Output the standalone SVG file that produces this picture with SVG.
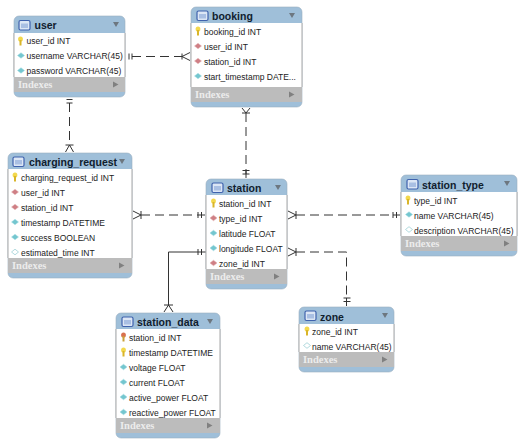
<svg xmlns="http://www.w3.org/2000/svg" width="524" height="445" viewBox="0 0 524 445">
<style>
.body{fill:#9fbfd9;stroke:#9aaebf;stroke-width:.6}
.white{fill:#fff}
.side{fill:none;stroke:#a9a9a9;stroke-width:1}
.band{fill:#bcbcbc}
.t{font-family:"Liberation Sans",Arial,sans-serif;font-size:10.5px;font-weight:bold;fill:#10202e}
.f{font-family:"Liberation Sans",Arial,sans-serif;font-size:8.5px;fill:#222}
.i{font-family:"Liberation Serif",serif;font-size:10.5px;font-weight:bold;fill:#ececec}
.tri{fill:#6d7780}
.tri2{fill:#808080}
.c{fill:none;stroke:#333;stroke-width:1}
.d{stroke-dasharray:9 5}
</style>
<defs>
<g id="ico"><rect x="0" y="0" width="11" height="9.5" rx="1.5" fill="#dce6f5" stroke="#3f62ad" stroke-width="1.2"/><rect x="2" y="3" width="7" height="4.5" fill="#a9bfe3"/></g>
<g id="key"><ellipse cx="0" cy="-2" rx="2.4" ry="2.6" fill="#f3d84c"/><rect x="-1" y="-1" width="2" height="5.500" fill="#d9b52a"/></g>
<g id="fkey"><ellipse cx="0" cy="-2" rx="2.4" ry="2.6" fill="#d9714f"/><rect x="-1" y="-1" width="2" height="5.500" fill="#c9a03a"/></g>
<path id="cy" d="M-3.500 0L0-2.800L3.500 0L0 2.800Z" fill="#74c6cf" stroke="#9fdbe0" stroke-width=".5"/>
<path id="rd" d="M-3.500 0L0-2.800L3.500 0L0 2.800Z" fill="#cf7f85" stroke="#e0b0b0" stroke-width=".5"/>
<path id="wh" d="M-3.500 0L0-2.800L3.500 0L0 2.800Z" fill="#fff" stroke="#9fd0d5" stroke-width=".8"/>
</defs>

<g id="connectors">
<path class="c d" d="M132 56.500H182"/>
<path class="c" d="M129 53.500v6M132 53.500v6M182 53.500v6M190 52.500L182 56.500L190 60.500"/>
<path class="c d" d="M69.500 103V145"/>
<path class="c" d="M66.500 99.500h6M66.500 103h6M65.500 145h8M65.500 152L69.500 145L73.500 152"/>
<path class="c d" d="M246 113V174"/>
<path class="c" d="M242 113h8M242 108L246 113L250 108M242.500 170.500h7M242.500 174h7M246 170V178"/>
<path class="c d" d="M141 215H198"/>
<path class="c" d="M133 211L141 215L133 219M141 211v8M198 212v6M201.500 212v6M198 215H205"/>
<path class="c d" d="M296 215H393"/>
<path class="c" d="M288 211L296 215L288 219M296 211v8M393 212v6M396.500 212v6M393 215H400"/>
<path class="c d" d="M296 252H346.500V298"/>
<path class="c" d="M288 248L296 252L288 256M296 248v8M343.500 298h7M343.500 301.500h7M346.500 298V306"/>
<path class="c" d="M206 252H168.500V305"/>
<path class="c" d="M198 249v6M201.500 249v6M164 305h9M164 312L168.500 305L173 312"/>
</g>

<g id="user">
<rect class="body" x="14" y="16" width="111" height="81" rx="5"/>
<rect class="white" x="14" y="33" width="111" height="44"/>
<path class="side" d="M14 33V77M125 33V77"/>
<rect class="band" x="14" y="77" width="111" height="15"/>
<use href="#ico" x="19" y="20.500"/>
<text class="t" x="34.500" y="29">user</text>
<path class="tri" d="M113 22h6l-3 5Z"/>
<use href="#key" x="20.500" y="41"/><text class="f" x="26.500" y="44">user_id INT</text>
<use href="#cy" x="21" y="55.500"/><text class="f" x="26.500" y="59">username VARCHAR(45)</text>
<use href="#cy" x="21" y="70.500"/><text class="f" x="26.500" y="74">password VARCHAR(45)</text>
<text class="i" x="18" y="88">Indexes</text>
<path class="tri2" d="M113 81.500l5.500 3-5.500 3Z"/>
</g>

<g id="booking">
<rect class="body" x="191" y="7" width="111" height="100" rx="5"/>
<rect class="white" x="191" y="23" width="111" height="64"/>
<path class="side" d="M191 23V87M302 23V87"/>
<rect class="band" x="191" y="87" width="111" height="15"/>
<use href="#ico" x="197" y="11"/>
<text class="t" x="212" y="20">booking</text>
<path class="tri" d="M289 13h6l-3 5Z"/>
<use href="#key" x="198" y="31"/><text class="f" x="204" y="34.500">booking_id INT</text>
<use href="#rd" x="198" y="46"/><text class="f" x="204" y="49.500">user_id INT</text>
<use href="#rd" x="198" y="61"/><text class="f" x="204" y="64.500">station_id INT</text>
<use href="#cy" x="198" y="76"/><text class="f" x="204" y="79.500">start_timestamp DATE...</text>
<text class="i" x="195" y="97.500">Indexes</text>
<path class="tri2" d="M289 91.500l5.500 3-5.500 3Z"/>
</g>

<g id="charging_request">
<rect class="body" x="8" y="153" width="124" height="125" rx="5"/>
<rect class="white" x="8" y="169" width="124" height="89"/>
<path class="side" d="M8 169V258M132 169V258"/>
<rect class="band" x="8" y="258" width="124" height="15"/>
<use href="#ico" x="13" y="157"/>
<text class="t" x="29" y="166">charging_request</text>
<path class="tri" d="M119 159h6l-3 5Z"/>
<use href="#key" x="15" y="177"/><text class="f" x="21" y="180.500">charging_request_id INT</text>
<use href="#rd" x="15" y="192"/><text class="f" x="21" y="195.500">user_id INT</text>
<use href="#rd" x="15" y="207"/><text class="f" x="21" y="210.500">station_id INT</text>
<use href="#cy" x="15" y="222"/><text class="f" x="21" y="225.500">timestamp DATETIME</text>
<use href="#cy" x="15" y="237"/><text class="f" x="21" y="240.500">success BOOLEAN</text>
<use href="#wh" x="15" y="252"/><text class="f" x="21" y="255.500">estimated_time INT</text>
<text class="i" x="12" y="269">Indexes</text>
<path class="tri2" d="M119 262.500l5.500 3-5.500 3Z"/>
</g>

<g id="station">
<rect class="body" x="206" y="179" width="81" height="110" rx="5"/>
<rect class="white" x="206" y="195" width="81" height="74"/>
<path class="side" d="M206 195V269M287 195V269"/>
<rect class="band" x="206" y="269" width="81" height="15"/>
<use href="#ico" x="212" y="183"/>
<text class="t" x="227" y="191.500">station</text>
<path class="tri" d="M275 185h6l-3 5Z"/>
<use href="#key" x="213.500" y="203"/><text class="f" x="219" y="206.500">station_id INT</text>
<use href="#rd" x="213.500" y="218"/><text class="f" x="219" y="221.500">type_id INT</text>
<use href="#cy" x="213.500" y="233"/><text class="f" x="219" y="236.500">latitude FLOAT</text>
<use href="#cy" x="213.500" y="248"/><text class="f" x="219" y="251.500">longitude FLOAT</text>
<use href="#rd" x="213.500" y="263"/><text class="f" x="219" y="266.500">zone_id INT</text>
<text class="i" x="210" y="280">Indexes</text>
<path class="tri2" d="M274 273.500l5.500 3-5.500 3Z"/>
</g>

<g id="station_type">
<rect class="body" x="401" y="175" width="116" height="81" rx="5"/>
<rect class="white" x="401" y="192" width="116" height="44"/>
<path class="side" d="M401 192V236M517 192V236"/>
<rect class="band" x="401" y="236" width="116" height="15"/>
<use href="#ico" x="407" y="179.500"/>
<text class="t" x="422" y="188.500">station_type</text>
<path class="tri" d="M504 181h6l-3 5Z"/>
<use href="#key" x="408" y="200"/><text class="f" x="414" y="203.500">type_id INT</text>
<use href="#cy" x="409" y="214.500"/><text class="f" x="414" y="218.500">name VARCHAR(45)</text>
<use href="#wh" x="409" y="229.500"/><text class="f" x="414" y="233.500">description VARCHAR(45)</text>
<text class="i" x="405" y="247">Indexes</text>
<path class="tri2" d="M504 240.500l5.500 3-5.500 3Z"/>
</g>

<g id="zone">
<rect class="body" x="299" y="307" width="95" height="65" rx="5"/>
<rect class="white" x="299" y="324" width="95" height="28"/>
<path class="side" d="M299 324V352M394 324V352"/>
<rect class="band" x="299" y="352" width="95" height="15"/>
<use href="#ico" x="305" y="311"/>
<text class="t" x="320" y="320.500">zone</text>
<path class="tri" d="M382 313h6l-3 5Z"/>
<use href="#key" x="307" y="331"/><text class="f" x="312" y="334.500">zone_id INT</text>
<use href="#wh" x="307" y="345.500"/><text class="f" x="312" y="349.500">name VARCHAR(45)</text>
<text class="i" x="303" y="363">Indexes</text>
<path class="tri2" d="M382 356.500l5.500 3-5.500 3Z"/>
</g>

<g id="station_data">
<rect class="body" x="116" y="313" width="104" height="125" rx="5"/>
<rect class="white" x="116" y="329" width="104" height="89"/>
<path class="side" d="M116 329V418M220 329V418"/>
<rect class="band" x="116" y="418" width="104" height="15"/>
<use href="#ico" x="122" y="317"/>
<text class="t" x="137" y="326">station_data</text>
<path class="tri" d="M207 319h6l-3 5Z"/>
<use href="#fkey" x="123.500" y="337"/><text class="f" x="129" y="340.500">station_id INT</text>
<use href="#key" x="123.500" y="352"/><text class="f" x="129" y="355.500">timestamp DATETIME</text>
<use href="#cy" x="123.500" y="367"/><text class="f" x="129" y="370.500">voltage FLOAT</text>
<use href="#cy" x="123.500" y="382"/><text class="f" x="129" y="385.500">current FLOAT</text>
<use href="#cy" x="123.500" y="397"/><text class="f" x="129" y="400.500">active_power FLOAT</text>
<use href="#cy" x="123.500" y="412"/><text class="f" x="129" y="415.500">reactive_power FLOAT</text>
<text class="i" x="120" y="429">Indexes</text>
<path class="tri2" d="M207 422.500l5.500 3-5.500 3Z"/>
</g>
</svg>
